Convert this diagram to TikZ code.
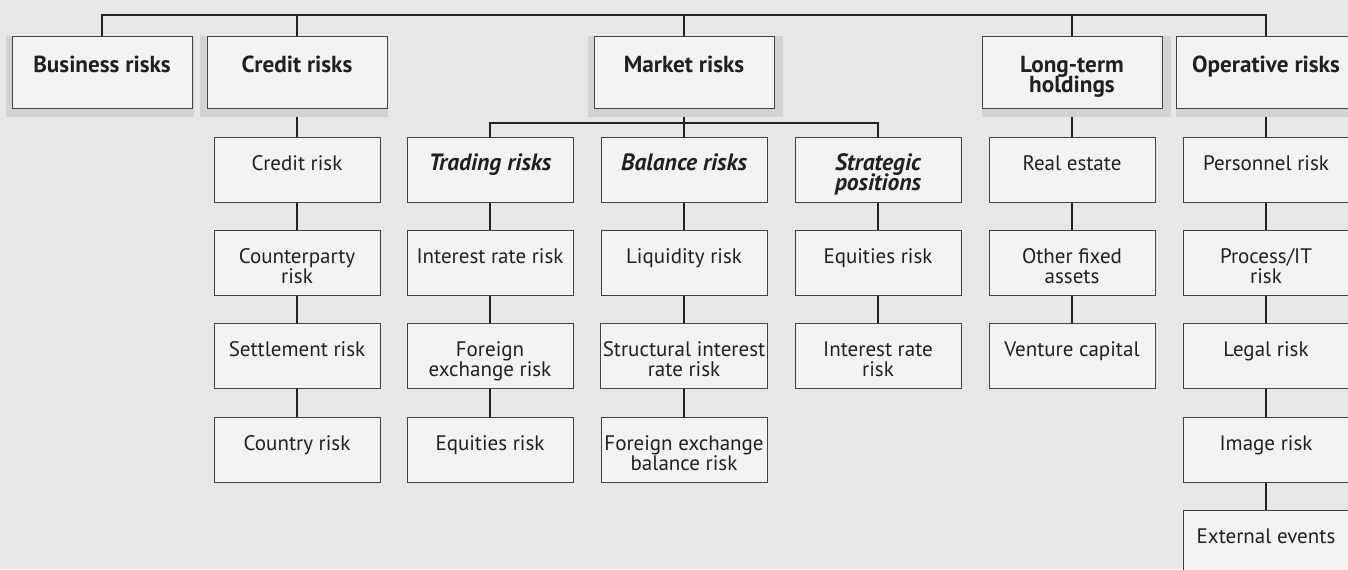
\documentclass[tikz,border=0pt]{standalone}
\usepackage{fontspec}
\setmainfont{PT Sans}
\definecolor{bgcol}{HTML}{E6E7E9}
\definecolor{boxcol}{HTML}{F2F3F5}
\definecolor{shadecol}{HTML}{D2D3D5}
\definecolor{inkcol}{HTML}{231F20}
\newcommand\tightlines{\lineskiplimit=-10pt\relax}
\pgfdeclarelayer{back}
\pgfdeclarelayer{lines}
\pgfdeclarelayer{shade}
\pgfsetlayers{back,lines,shade,main}
\tikzset{
  riskbox/.style={draw=inkcol!85, line width=0.5pt, fill=boxcol, text=inkcol,
    rectangle, align=center, inner xsep=1pt, inner ysep=0pt,
    font=\fontsize{10.5}{10}\selectfont\tightlines},
  mainbox/.style={riskbox, minimum width=90pt, text height=18.3pt, text depth=17.7pt,
    font=\fontsize{11.6}{10}\selectfont\bfseries\tightlines},
  mainbox2/.style={mainbox, text height=28.3pt, text depth=7.7pt},
  subbox/.style={riskbox, minimum width=83pt, text height=16.5pt, text depth=16pt},
  subbox2/.style={subbox, text height=26.5pt, text depth=6pt},
  groupbox/.style={subbox, font=\fontsize{11.8}{10}\selectfont\bfseries\itshape\tightlines},
  groupbox2/.style={groupbox, text height=26.5pt, text depth=6pt},
  link/.style={draw=inkcol, line width=0.85pt}
}
\begin{document}
\begin{tikzpicture}[x=0.5pt,y=-0.5pt]

  \begin{pgfonlayer}{back}
    \fill[bgcol] (0,0) rectangle (1348,569);
  \end{pgfonlayer}
  \useasboundingbox (0,0) rectangle (1348,569);
  \clip (0,0) rectangle (1348,569);

  \coordinate (topbar) at (684,15);
  \coordinate (mbar) at (684,123);

  \node[mainbox] (business) at (102,72) {Business risks};
  \node[mainbox] (credit) at (297,72) {Credit risks};
  \node[mainbox] (market) at (684,72) {Market risks};
  \node[mainbox2] (longterm) at (1072,72) {Long-term\\holdings};
  \node[mainbox] (operative) at (1266,72) {Operative risks};

  \node[subbox] (crrisk) at (297,169.5) {Credit risk};
  \node[subbox2] (counterparty) at (297,262.5) {Counterparty\\risk};
  \node[subbox] (settlement) at (297,356) {Settlement risk};
  \node[subbox] (country) at (297,449.5) {Country risk};

  \node[groupbox] (trading) at (490,169.5) {Trading risks};
  \node[subbox] (ir1) at (490,262.5) {Interest rate risk};
  \node[subbox2] (fx1) at (490,356) {Foreign\\exchange risk};
  \node[subbox] (eq1) at (490,449.5) {Equities risk};

  \node[groupbox] (balance) at (684,169.5) {Balance risks};
  \node[subbox] (liquidity) at (684,262.5) {Liquidity risk};
  \node[subbox2] (structural) at (684,356) {Structural interest\\rate risk};
  \node[subbox2] (fxbal) at (684,449.5) {Foreign exchange\\balance risk};

  \node[groupbox2] (strategic) at (878,169.5) {Strategic\\positions};
  \node[subbox] (eq2) at (878,262.5) {Equities risk};
  \node[subbox2] (ir2) at (878,356) {Interest rate\\risk};

  \node[subbox] (realestate) at (1072,169.5) {Real estate};
  \node[subbox2] (fixedassets) at (1072,262.5) {Other fixed\\assets};
  \node[subbox] (venture) at (1072,356) {Venture capital};

  \node[subbox] (personnel) at (1266,169.5) {Personnel risk};
  \node[subbox2] (process) at (1266,262.5) {Process/IT\\risk};
  \node[subbox] (legal) at (1266,356) {Legal risk};
  \node[subbox] (image) at (1266,449.5) {Image risk};
  \node[subbox] (external) at (1266,543) {External events};

  \begin{pgfonlayer}{shade}
    \fill[shadecol] ([xshift=-3pt]business.north west) rectangle ([xshift=0.5pt,yshift=-4pt]business.south east);
    \fill[shadecol] ([xshift=-3.5pt]credit.north west) rectangle ([yshift=-4pt]credit.south east);
    \fill[shadecol] ([xshift=-3pt]market.north west) rectangle ([xshift=4pt,yshift=-4pt]market.south east);
    \fill[shadecol] (longterm.north west) rectangle ([xshift=4pt,yshift=-4pt]longterm.south east);
    \fill[shadecol] (operative.north west) rectangle ([xshift=4pt,yshift=-4pt]operative.south east);
  \end{pgfonlayer}

  \begin{pgfonlayer}{lines}
    \draw[link] (business.north) |- (topbar) -| (operative.north);
    \draw[link] (credit.north) -- (credit.north |- topbar);
    \draw[link] (market.north) -- (topbar);
    \draw[link] (longterm.north) -- (longterm.north |- topbar);

    \draw[link] (credit.south) -- (crrisk.north);
    \draw[link] (crrisk.south) -- (counterparty.north);
    \draw[link] (counterparty.south) -- (settlement.north);
    \draw[link] (settlement.south) -- (country.north);

    \draw[link] (market.south) -- (balance.north);
    \draw[link] (trading.north) |- (mbar) -| (strategic.north);
    \draw[link] (trading.south) -- (ir1.north);
    \draw[link] (ir1.south) -- (fx1.north);
    \draw[link] (fx1.south) -- (eq1.north);
    \draw[link] (balance.south) -- (liquidity.north);
    \draw[link] (liquidity.south) -- (structural.north);
    \draw[link] (structural.south) -- (fxbal.north);
    \draw[link] (strategic.south) -- (eq2.north);
    \draw[link] (eq2.south) -- (ir2.north);

    \draw[link] (longterm.south) -- (realestate.north);
    \draw[link] (realestate.south) -- (fixedassets.north);
    \draw[link] (fixedassets.south) -- (venture.north);

    \draw[link] (operative.south) -- (personnel.north);
    \draw[link] (personnel.south) -- (process.north);
    \draw[link] (process.south) -- (legal.north);
    \draw[link] (legal.south) -- (image.north);
    \draw[link] (image.south) -- (external.north);
  \end{pgfonlayer}

\end{tikzpicture}
\end{document}
